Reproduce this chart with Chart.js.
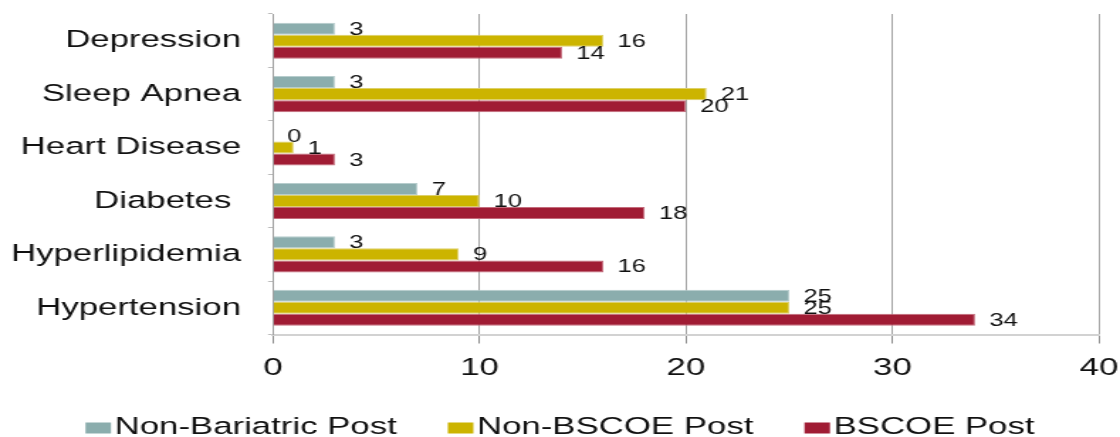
<!DOCTYPE html>
<html>
<head>
<meta charset="utf-8">
<script src="https://cdn.jsdelivr.net/npm/chart.js@4.4.1/dist/chart.umd.min.js"></script>
<style>
  html, body { margin: 0; padding: 0; background: #fff; overflow: hidden; }
  /* the chart is laid out narrow and widened horizontally */
  #stage { width: 789px; height: 437px; transform: scaleX(1.4195); transform-origin: 0 0; }
</style>
</head>
<body>
<div id="stage"><canvas id="c" width="789" height="437"></canvas></div>
<script>
const categories = ['Depression', 'Sleep Apnea', 'Heart Disease', 'Diabetes ', 'Hyperlipidemia', 'Hypertension'];
const seriesNames = ['Non-Bariatric Post', 'Non-BSCOE Post', 'BSCOE Post'];
const nonBariatricPost = [3, 3, 0, 7, 3, 25];
const nonBscoePost = [16, 21, 1, 10, 9, 25];
const bscoePost = [14, 20, 3, 18, 16, 34];
const xTicks = [0, 10, 20, 30, 40];

const FONT = '"Liberation Sans", Arial, Helvetica, sans-serif';
const fills = ['#8badad', '#ccb400', '#a01c34'];
const edges = ['#b7cdcd', '#ddd06a', '#c46c7c'];

Chart.defaults.font.family = FONT;
Chart.defaults.color = '#111';

// value printed just past the end of each bar
const valueLabels = {
  id: 'valueLabels',
  afterDatasetsDraw(chart) {
    const ctx = chart.ctx;
    ctx.save();
    ctx.font = '18px ' + FONT;
    ctx.fillStyle = '#111';
    ctx.textAlign = 'left';
    ctx.textBaseline = 'middle';
    chart.data.datasets.forEach((ds, i) => {
      chart.getDatasetMeta(i).data.forEach((bar, j) => {
        ctx.fillText(String(ds.data[j]), bar.x + 10, bar.y + 1);
      });
    });
    ctx.restore();
  }
};

// legend row along the bottom edge
const bottomLegend = {
  id: 'bottomLegend',
  afterDraw(chart) {
    const ctx = chart.ctx;
    ctx.save();
    ctx.font = '24.5px ' + FONT;
    ctx.textBaseline = 'middle';
    ctx.textAlign = 'left';
    const boxW = 18, boxH = 11, gap = 2.5, itemGap = 36;
    const sets = chart.data.datasets;
    const widths = sets.map(d => boxW + gap + ctx.measureText(d.label).width);
    const total = widths.reduce((a, b) => a + b, 0) + itemGap * (widths.length - 1);
    let x = (chart.width - total) / 2;
    const y = chart.height - 9.5;
    sets.forEach((d, i) => {
      ctx.fillStyle = d.backgroundColor;
      ctx.fillRect(x, y - boxH / 2 + 0.5, boxW, boxH);
      ctx.fillStyle = '#111';
      ctx.fillText(d.label, x + boxW + gap, y);
      x += widths[i] + itemGap;
    });
    ctx.restore();
  }
};

const series = [nonBariatricPost, nonBscoePost, bscoePost];

new Chart(document.getElementById('c'), {
  type: 'bar',
  data: {
    labels: categories,
    datasets: series.map((vals, i) => ({
      label: seriesNames[i],
      data: vals,
      backgroundColor: fills[i],
      borderColor: edges[i],
      borderWidth: 1,
      categoryPercentage: 0.674,
      barPercentage: 1.0
    }))
  },
  options: {
    indexAxis: 'y',
    responsive: false,
    animation: false,
    devicePixelRatio: 1,
    layout: { padding: { top: 14, right: 14.8, left: 0, bottom: 42.5 } },
    plugins: {
      legend: { display: false },
      tooltip: { enabled: false }
    },
    scales: {
      x: {
        min: 0,
        max: 40,
        afterBuildTicks(scale) { scale.ticks = xTicks.map(v => ({ value: v })); },
        afterFit(scale) {
          scale.height = 60;
          scale.paddingLeft = 0; scale.paddingRight = 0;
          scale.paddingTop = 0; scale.paddingBottom = 0;
        },
        ticks: { font: { size: 24.5 }, color: '#111', padding: 10, maxRotation: 0 },
        grid: { color: '#a4a4a4', tickColor: '#8e8e8e', tickLength: 9, lineWidth: 1 },
        border: { color: '#d2d2d2', width: 2 }
      },
      y: {
        afterFit(scale) {
          scale.width = 192.3;
          scale.paddingLeft = 0; scale.paddingRight = 0;
          scale.paddingTop = 0; scale.paddingBottom = 0;
        },
        ticks: { font: { size: 24.5 }, color: '#111', padding: 19 },
        grid: { drawOnChartArea: false, tickLength: 3.5, color: '#bdbdbd', offset: true },
        border: { color: '#a0a0a0', width: 1 }
      }
    }
  },
  plugins: [valueLabels, bottomLegend]
});
</script>
</body>
</html>
